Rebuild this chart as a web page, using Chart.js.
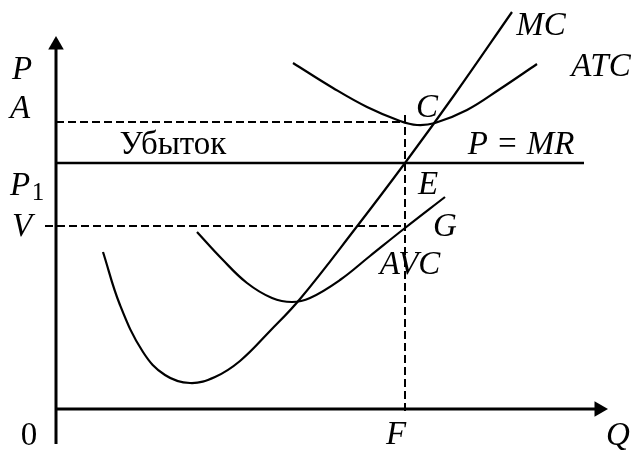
<!DOCTYPE html>
<html>
<head>
<meta charset="utf-8">
<script src="https://cdn.jsdelivr.net/npm/chart.js@4.4.1/dist/chart.umd.min.js"></script>
<style>
  html, body { margin: 0; padding: 0; background: #fff; }
  #wrap { width: 633px; height: 451px; }
</style>
</head>
<body>
<div id="wrap"><canvas id="costChart" width="633" height="451"></canvas></div>
<script>
// curves (Q, P)
const mcCurve = [[4.7,15.7],[6.4,10.4],[8.7,5.7],[10.9,3.4],[13.4,2.6],[15.9,3.2],[18.4,4.8],[21.4,7.8],[24.4,11.0],[29.9,18.0],[34.9,24.6],[39.9,31.5],[45.6,39.7]]
const avcCurve = [[14.1,17.7],[16.6,15.0],[19.1,12.6],[21.6,11.1],[23.6,10.7],[25.4,11.1],[28.4,12.9],[31.4,15.3],[34.9,18.1],[38.9,21.2]]
const atcCurve = [[23.7,34.6],[27.7,32.1],[31.1,30.2],[34.4,28.8],[36.1,28.4],[37.9,28.6],[41.1,29.9],[44.4,32.0],[48.1,34.5]]

const priceLevel = 24.6   // P1 = MR
const atcLevel = 28.7     // A
const avcLevel = 18.3     // V
const qF = 34.9           // F
const qMax = 55.1
const pMax = 37.2

const textLabels = [
    {t: 'P', x: -3.4, y: 33.9, it: true},
    {t: 'A', x: -3.6, y: 30.0, it: true},
    {t: 'P', x: -3.6, y: 22.3, it: true},
    {t: '1', x: -1.8, y: 21.6, it: false, size: 25},
    {t: 'V', x: -3.4, y: 18.2, it: true},
    {t: '0', x: -2.7, y: -2.7, it: false},
    {t: 'F', x: 34.0, y: -2.6, it: true},
    {t: 'Q', x: 56.2, y: -2.7, it: true},
    {t: 'MC', x: 48.5, y: 38.3, it: true},
    {t: 'ATC', x: 54.5, y: 34.2, it: true},
    {t: 'C', x: 37.1, y: 30.1, it: true},
    {t: 'P = MR', x: 46.5, y: 26.4, it: true},
    {t: 'E', x: 37.2, y: 22.4, it: true},
    {t: 'G', x: 38.9, y: 18.2, it: true},
    {t: 'AVC', x: 35.4, y: 14.4, it: true},
    {t: 'Убыток', x: 11.7, y: 26.4, it: false},
]

const toPts = arr => arr.map(([x, y]) => ({x, y}))

const line = (data, width, dash, tension) => ({
    type: 'line',
    data,
    borderColor: '#000',
    borderWidth: width,
    borderDash: dash || [],
    pointRadius: 0,
    tension: tension || 0,
    fill: false
})

const labelPlugin = {
    id: 'labels',
    afterDatasetsDraw(chart) {
        const {ctx, scales: {x, y}} = chart
        ctx.save()
        ctx.fillStyle = '#000'
        ctx.textAlign = 'center'
        ctx.textBaseline = 'middle'
        for (const l of textLabels) {
            ctx.font = (l.it ? 'italic ' : '') + (l.size || 33) + 'px "Liberation Serif", serif'
            ctx.fillText(l.t, x.getPixelForValue(l.x), y.getPixelForValue(l.y))
        }
        ctx.restore()
    }
}

new Chart(document.getElementById('costChart'), {
    type: 'scatter',
    data: {
        datasets: [
            line(toPts(mcCurve), 2.2, null, 0.4),
            line(toPts(avcCurve), 2.2, null, 0.4),
            line(toPts(atcCurve), 2.2, null, 0.4),
            line([{x: 0, y: priceLevel}, {x: 52.8, y: priceLevel}], 2.5),
            line([{x: 0, y: atcLevel}, {x: qF, y: atcLevel}], 2, [8, 4]),
            line([{x: -1.1, y: avcLevel}, {x: qF, y: avcLevel}], 2, [8, 4]),
            line([{x: qF, y: 29.4}, {x: qF, y: -0.6}], 2, [8, 4]),
            // axes
            line([{x: 0, y: -3.5}, {x: 0, y: pMax - 0.8}], 3),
            line([{x: 0, y: 0}, {x: qMax - 0.8, y: 0}], 3),
            {
                type: 'scatter',
                data: [{x: 0, y: pMax - 0.8}],
                pointStyle: 'triangle',
                pointRadius: 9,
                rotation: 0,
                backgroundColor: '#000',
                borderColor: '#000',
                borderWidth: 0
            },
            {
                type: 'scatter',
                data: [{x: qMax - 0.8, y: 0}],
                pointStyle: 'triangle',
                pointRadius: 9,
                rotation: 90,
                backgroundColor: '#000',
                borderColor: '#000',
                borderWidth: 0
            }
        ]
    },
    options: {
        responsive: false,
        animation: false,
        layout: {padding: 0, autoPadding: false},
        plugins: {legend: {display: false}, tooltip: {enabled: false}},
        scales: {
            x: {type: 'linear', min: -5.6, max: 57.7, display: false},
            y: {type: 'linear', min: -4.2, max: 40.9, display: false}
        }
    },
    plugins: [labelPlugin]
});
</script>
</body>
</html>
